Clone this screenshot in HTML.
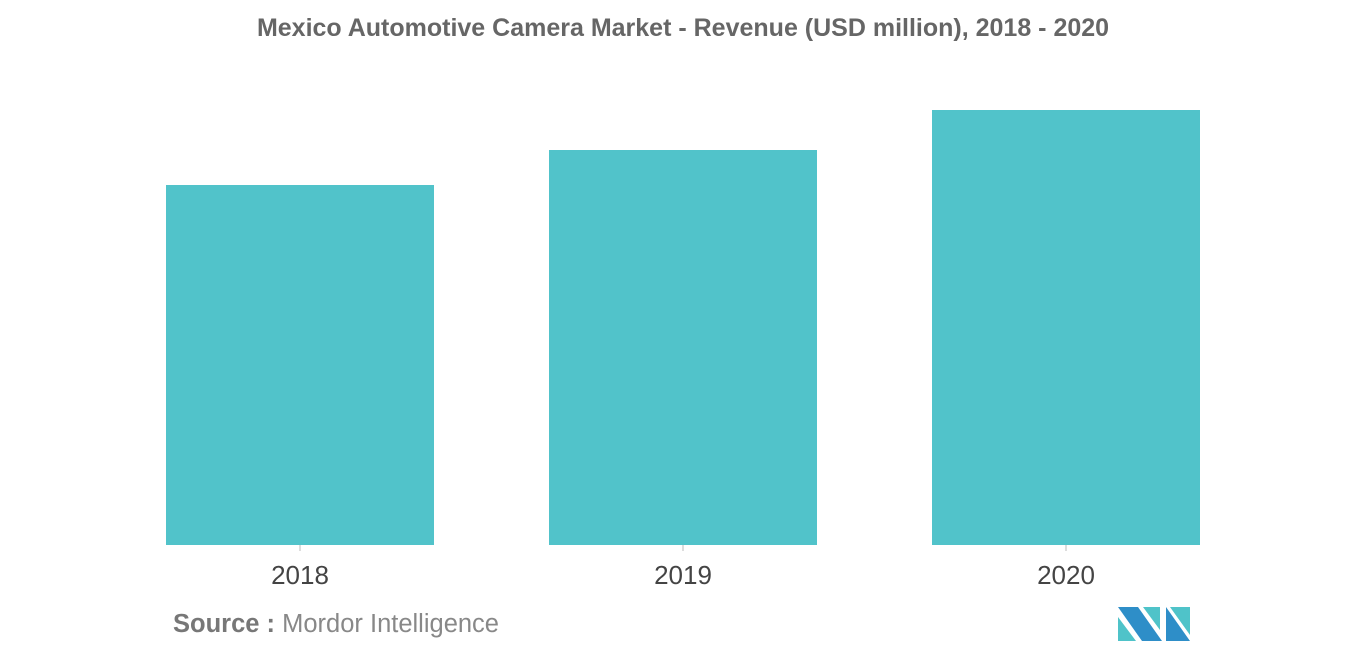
<!DOCTYPE html>
<html><head><meta charset="utf-8">
<style>
html,body{margin:0;padding:0;background:#fff;width:1366px;height:655px;overflow:hidden;font-family:"Liberation Sans",sans-serif;}
</style></head>
<body>
<svg width="1366" height="655" viewBox="0 0 1366 655">
<text x="683" y="36" text-anchor="middle" font-size="25" font-weight="bold" fill="#666">Mexico Automotive Camera Market - Revenue (USD million), 2018 - 2020</text>
<g id="bars"></g>
<text x="173" y="632" font-size="25.5" fill="#777"><tspan font-weight="bold">Source :</tspan> <tspan fill="#888">Mordor Intelligence</tspan></text>
<g>
<polygon points="1118,607 1138,607 1162,641 1142,641" fill="#2e8ec8"/>
<polygon points="1118,617 1136,641 1118,641" fill="#4fc3c9"/>
<polygon points="1143,607 1160,607 1160,630" fill="#4fc3c9"/>
<polygon points="1166,607 1190,641 1166,641" fill="#2e8ec8"/>
<polygon points="1170,607 1190,607 1190,635" fill="#4fc3c9"/>
</g>
</svg>
<script>
const categories=["2018","2019","2020"];
const values=[360,395,435];
const baseY=545, plotTop=65, maxV=480;
const x0=166, step=383, bw=268;
function xPos(i){return x0+i*step;}
function yPos(v){return baseY-(v/maxV)*(baseY-plotTop);}
const g=document.getElementById('bars');
const ns="http://www.w3.org/2000/svg";
categories.forEach((c,i)=>{
  const r=document.createElementNS(ns,'rect');
  
  
  const y=yPos(values[i]);
  r.setAttribute('x',xPos(i));r.setAttribute('y',y);
  r.setAttribute('width',bw);r.setAttribute('height',baseY-y);
  r.setAttribute('fill','#51c3ca');
  g.appendChild(r);
  const t=document.createElementNS(ns,'line');
  
  
  const cx=xPos(i)+bw/2;
  t.setAttribute('x1',cx);t.setAttribute('x2',cx);t.setAttribute('y1',baseY);t.setAttribute('y2',baseY+6);
  t.setAttribute('stroke','#bbb');
  g.appendChild(t);
  const l=document.createElementNS(ns,'text');
  
  
  l.setAttribute('x',cx);l.setAttribute('y',584);
  l.setAttribute('text-anchor','middle');l.setAttribute('font-size','26');l.setAttribute('fill','#444');
  l.textContent=c;
  g.appendChild(l);
});
</script>
</body></html>
